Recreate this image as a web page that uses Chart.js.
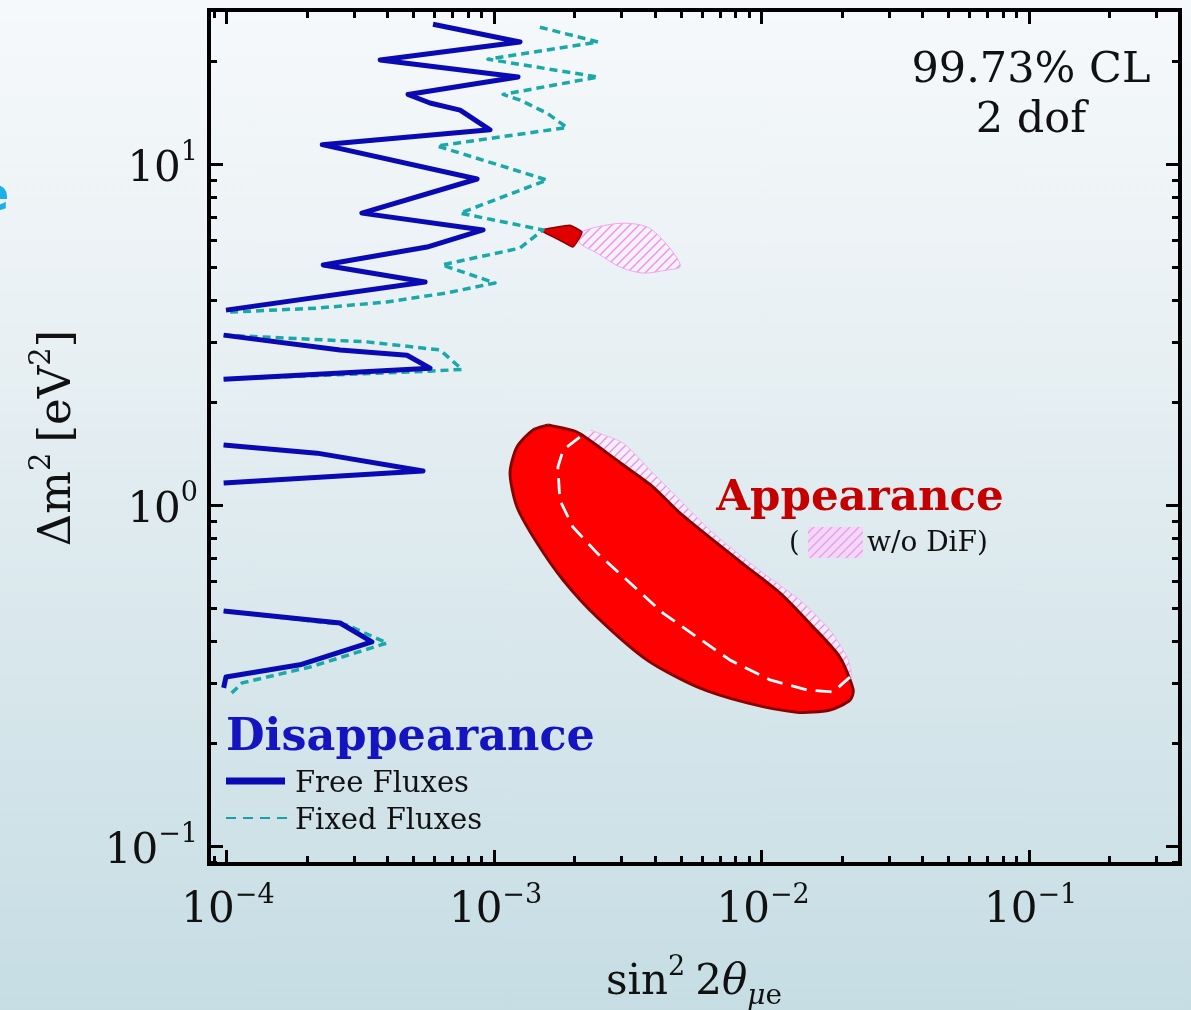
<!DOCTYPE html>
<html><head><meta charset="utf-8">
<script src="https://cdn.jsdelivr.net/npm/chart.js@4.4.0/dist/chart.umd.min.js"></script>
<style>
html,body{margin:0;padding:0;width:1191px;height:1010px;overflow:hidden;
background:linear-gradient(to bottom,#f6f9fb 0%,#eaf1f4 30%,#d8e7ec 65%,#c6dde4 100%);}
#c{position:absolute;left:0;top:0;}
</style></head><body>
<canvas id="c" width="1191" height="1010"></canvas>
<script>
// ---------- DATA ----------
// Disappearance, free fluxes (solid blue) – upper oscillating contour
const freeUpperX = [5.94e-4,1.256e-3,3.77e-4,1.235e-3,4.79e-4,5.79e-4,7.50e-4,9.70e-4,2.29e-4,8.68e-4,3.22e-4,9.14e-4,5.64e-4,2.31e-4,5.55e-4,1.0e-4];
const freeUpperY = [25.7,22.8,20.2,18.0,16.0,15.1,14.4,12.6,11.4,9.04,7.18,6.41,5.71,5.06,4.51,3.73];
const freeLoop2X = [9.8e-5,2.67e-4,4.75e-4,5.79e-4,9.8e-5];
const freeLoop2Y = [3.15,2.85,2.75,2.52,2.34];
const freeLoop3X = [9.8e-5,2.19e-4,5.45e-4,9.8e-5];
const freeLoop3Y = [1.50,1.42,1.258,1.16];
const freeLoop4X = [9.8e-5,2.67e-4,3.51e-4,1.89e-4,1.0e-4,9.8e-5];
const freeLoop4Y = [0.489,0.451,0.397,0.340,0.313,0.291];
// Disappearance, fixed fluxes (dashed teal)
const fixedUpperX = [1.49e-3,2.46e-3,9.53e-4,2.46e-3,1.086e-3,1.256e-3,1.585e-3,1.88e-3,6.15e-4,1.585e-3,7.50e-4,1.53e-3,1.256e-3,6.42e-4,1.013e-3,6.70e-4,3.99e-4,2.19e-4,1.03e-4];
const fixedUpperY = [25.2,22.8,20.3,18.0,16.0,15.4,14.1,12.8,11.3,8.98,7.18,6.41,5.67,5.06,4.48,4.19,3.94,3.78,3.68];
const fixedLoop2X = [9.8e-5,3.37e-4,6.31e-4,7.63e-4,5.79e-4,9.8e-5];
const fixedLoop2Y = [3.15,3.01,2.85,2.50,2.47,2.34];
const fixedLoop3X = [9.8e-5,2.19e-4,5.45e-4,9.8e-5];
const fixedLoop3Y = [1.50,1.42,1.258,1.16];
const fixedLoop4X = [9.8e-5,2.83e-4,4.0e-4,2.06e-4,1.15e-4,1.03e-4];
const fixedLoop4Y = [0.489,0.445,0.394,0.335,0.301,0.277];
// Appearance (red filled region)
const appearX = [1.60e-3,2.05e-3,2.66e-3,3.24e-3,3.95e-3,4.98e-3,6.62e-3,8.87e-3,1.178e-2,1.565e-2,1.97e-2,2.21e-2,2.15e-2,1.81e-2,1.36e-2,8.87e-3,5.77e-3,3.75e-3,2.44e-3,1.82e-3,1.455e-3,1.224e-3,1.153e-3,1.224e-3,1.406e-3];
const appearY = [1.717,1.637,1.420,1.267,1.129,0.947,0.789,0.658,0.552,0.439,0.358,0.287,0.268,0.2505,0.247,0.263,0.293,0.351,0.469,0.603,0.774,0.987,1.241,1.48,1.66];
const appearIslandX = [1.49e-3,1.93e-3,2.14e-3,2.07e-3,1.98e-3,1.77e-3,1.56e-3];
const appearIslandY = [6.41,6.62,6.32,5.98,5.71,5.98,6.28];
// Appearance w/o DiF: white dashed lower edge + pink hatched upper edge
const noDifLowerX = [2.10e-3,1.82e-3,1.74e-3,1.77e-3,1.98e-3,2.44e-3,3.24e-3,4.30e-3,5.77e-3,7.66e-3,1.08e-2,1.486e-2,1.86e-2,2.03e-2,2.15e-2];
const noDifLowerY = [1.582,1.45,1.292,1.034,0.862,0.723,0.591,0.482,0.410,0.351,0.307,0.287,0.283,0.301,0.313];
const noDifUpperX = [2.30e-3,3.05e-3,3.85e-3,4.85e-3,6.62e-3,1.017e-2,1.40e-2,1.81e-2,2.10e-2,2.19e-2];
const noDifUpperY = [1.66,1.52,1.267,1.055,0.828,0.632,0.526,0.430,0.358,0.313];
const noDifIslandX = [2.10e-3,2.44e-3,3.05e-3,3.75e-3,4.30e-3,4.85e-3,4.98e-3,4.45e-3,3.62e-3,2.97e-3,2.44e-3,2.10e-3];
const noDifIslandY = [6.32,6.54,6.71,6.54,5.98,5.30,4.99,4.89,4.79,4.99,5.48,5.87];
// Axes
const xMin = 8.64e-5, xMax = 0.368;
const yMin = 0.0886, yMax = 28.3;
const xTickValues = [1e-4,1e-3,1e-2,1e-1];
const xTickExps = ['\u22124','\u22123','\u22122','\u22121'];
const yTickValues = [0.1,1,10];
const yTickExps = ['\u22121','0','1'];

// ---------- helpers ----------
const pts = (xs, ys) => xs.map((x, i) => ({x, y: ys[i]}));
const closed = (xs, ys) => { const p = pts(xs, ys); p.push({...p[0]}); return p; };
function hatch(){
  const c = document.createElement('canvas'); c.width = 9; c.height = 9;
  const g = c.getContext('2d');
  g.fillStyle = 'rgba(255,240,255,0.6)'; g.fillRect(0,0,9,9);
  g.strokeStyle = '#ec8cec'; g.lineWidth = 1.3;
  g.beginPath();
  g.moveTo(-1,10); g.lineTo(10,-1);
  g.moveTo(-5.5,5.5); g.lineTo(5.5,-5.5);
  g.moveTo(3.5,14.5); g.lineTo(14.5,3.5);
  g.stroke();
  return g.createPattern(c,'repeat');
}
const pat = hatch();
const SERIF = '"DejaVu Serif", "Liberation Serif", serif';
function rich(ctx, segs, x, y, align){
  let total = 0;
  for (const s of segs){ ctx.font = (s.st||'') + ' ' + s.sz + 'px ' + SERIF; s.w = ctx.measureText(s.t).width + (s.gap||0); total += s.w; }
  let cx = align === 'center' ? x - total/2 : (align === 'right' ? x - total : x);
  ctx.textAlign = 'left'; ctx.textBaseline = 'alphabetic';
  for (const s of segs){ ctx.font = (s.st||'') + ' ' + s.sz + 'px ' + SERIF; ctx.fillText(s.t, cx, y + (s.dy||0)); cx += s.w; }
}

const lineDs = (data, color, width, dash, order) => ({
  data, showLine: true, borderColor: color, borderWidth: width, borderDash: dash || [],
  pointRadius: 0, fill: false, tension: 0, order, borderJoinStyle: 'round', borderCapStyle: 'butt'
});

const noDifPoly = pts(noDifUpperX, noDifUpperY).concat(pts(noDifLowerX, noDifLowerY).reverse());

const datasets = [
  {data: noDifPoly, showLine:true, borderColor:'#f0b4f0', borderWidth:1, backgroundColor: pat, fill:'shape', pointRadius:0, order: 20, tension:0.2},
  {data: closed(noDifIslandX, noDifIslandY), showLine:true, borderColor:'#f0a6f0', borderWidth:1, backgroundColor: pat, fill:'shape', pointRadius:0, order: 19, tension:0.3},
  {data: closed(appearX, appearY), showLine:true, borderColor:'#8a0000', borderWidth:3, backgroundColor:'#ff0000', fill:'shape', pointRadius:0, order: 18, tension:0.25},
  {data: closed(appearIslandX, appearIslandY), showLine:true, borderColor:'#8a0000', borderWidth:1.5, backgroundColor:'#e00000', fill:'shape', pointRadius:0, order: 17, tension:0.1},
  lineDs(pts(noDifLowerX, noDifLowerY), '#ffffff', 2.8, [16,9], 16),
  lineDs(pts(fixedUpperX, fixedUpperY), '#1aa8a8', 3.5, [8,5], 10),
  lineDs(pts(fixedLoop2X, fixedLoop2Y), '#1aa8a8', 3.5, [8,5], 10),
  lineDs(pts(fixedLoop3X, fixedLoop3Y), '#1aa8a8', 3.5, [8,5], 10),
  lineDs(pts(fixedLoop4X, fixedLoop4Y), '#1aa8a8', 3.5, [8,5], 10),
  lineDs(pts(freeUpperX, freeUpperY), '#0a0ab4', 5, [], 1),
  lineDs(pts(freeLoop2X, freeLoop2Y), '#0a0ab4', 5, [], 1),
  lineDs(pts(freeLoop3X, freeLoop3Y), '#0a0ab4', 5, [], 1),
  lineDs(pts(freeLoop4X, freeLoop4Y), '#0a0ab4', 5, [], 1)
];

const deco = {
  id: 'deco',
  afterDraw(chart){
    const ctx = chart.ctx, a = chart.chartArea, xs = chart.scales.x, ys = chart.scales.y;
    ctx.save();
    // ticks
    ctx.strokeStyle = '#000'; ctx.lineWidth = 3;
    ctx.beginPath();
    for (let e = -5; e <= 1; e++) for (let m = 1; m <= 9; m++){
      const v = m * Math.pow(10, e);
      const L = m === 1 ? 14 : 8;
      if (v >= xs.min && v <= xs.max){
        const px = Math.round(xs.getPixelForValue(v)) + 0.5;
        ctx.moveTo(px, a.bottom); ctx.lineTo(px, a.bottom - L);
        ctx.moveTo(px, a.top); ctx.lineTo(px, a.top + L);
      }
      if (v >= ys.min && v <= ys.max){
        const py = Math.round(ys.getPixelForValue(v)) + 0.5;
        ctx.moveTo(a.left, py); ctx.lineTo(a.left + L, py);
        ctx.moveTo(a.right, py); ctx.lineTo(a.right - L, py);
      }
    }
    ctx.stroke();
    // frame
    ctx.lineWidth = 4;
    ctx.strokeRect(a.left, a.top, a.right - a.left, a.bottom - a.top);
    // tick labels
    ctx.fillStyle = '#111';
    xTickValues.forEach((v, i) => {
      const px = xs.getPixelForValue(v);
      rich(ctx, [{t:'10', sz:42}, {t:xTickExps[i], sz:27, dy:-19}], px + 2, 922, 'center');
    });
    yTickValues.forEach((v, i) => {
      const py = ys.getPixelForValue(v);
      rich(ctx, [{t:'10', sz:42}, {t:yTickExps[i], sz:27, dy:-21}], 198, py + 17, 'right');
    });
    // axis titles
    ctx.save();
    ctx.translate(70, 438); ctx.rotate(-Math.PI/2);
    rich(ctx, [{t:'\u0394m', sz:45}, {t:'2', sz:29, dy:-20, gap:10}, {t:'[eV', sz:45}, {t:'2', sz:29, dy:-20}, {t:']', sz:45}], 0, 0, 'center');
    ctx.restore();
    rich(ctx, [{t:'sin', sz:42}, {t:'2', sz:27, dy:-19, gap:10}, {t:'2', sz:42}, {t:'\u03b8', sz:42, st:'italic'}, {t:'\u03bc', sz:28, dy:10, st:'italic'}, {t:'e', sz:28, dy:10}], 694, 994, 'center');
    // CL box
    ctx.fillStyle = '#111';
    rich(ctx, [{t:'99.73% CL', sz:43}], 1031, 82, 'center');
    rich(ctx, [{t:'2 dof', sz:43}], 1031, 132, 'center');
    // Appearance label
    ctx.fillStyle = '#c40000';
    rich(ctx, [{t:'Appearance', sz:43.5, st:'bold'}], 860, 510, 'center');
    ctx.fillStyle = '#111';
    rich(ctx, [{t:'(', sz:27}], 789, 551, 'left');
    ctx.fillStyle = pat; ctx.fillRect(808, 527, 55, 31);
    ctx.fillStyle = '#f2b0f2'; ctx.globalAlpha = 0.35; ctx.fillRect(808, 527, 55, 31); ctx.globalAlpha = 1;
    ctx.fillStyle = '#111';
    rich(ctx, [{t:'w/o DiF)', sz:28}], 867, 551, 'left');
    // Disappearance legend
    ctx.fillStyle = '#1414c0';
    rich(ctx, [{t:'Disappearance', sz:44.5, st:'bold'}], 226, 750, 'left');
    ctx.strokeStyle = '#0a0ab4'; ctx.lineWidth = 7; ctx.setLineDash([]);
    ctx.beginPath(); ctx.moveTo(226, 781); ctx.lineTo(285, 781); ctx.stroke();
    ctx.strokeStyle = '#1aa0a0'; ctx.lineWidth = 2; ctx.setLineDash([10,7]);
    ctx.beginPath(); ctx.moveTo(226, 818); ctx.lineTo(287, 818); ctx.stroke();
    ctx.setLineDash([]);
    ctx.fillStyle = '#111';
    rich(ctx, [{t:'Free Fluxes', sz:29}], 295, 792, 'left');
    rich(ctx, [{t:'Fixed Fluxes', sz:29}], 295, 829, 'left');
    // cut-off slide text fragment at left edge
    ctx.fillStyle = '#1eb0e6';
    ctx.font = 'bold 46px "DejaVu Sans", sans-serif';
    ctx.fillText('e', -22, 210);
    ctx.restore();
  }
};

new Chart(document.getElementById('c'), {
  type: 'scatter',
  data: { datasets },
  options: {
    responsive: false, animation: false,
    layout: { padding: { left: 209, right: 11, top: 10, bottom: 146 } },
    plugins: { legend: { display: false }, tooltip: { enabled: false } },
    scales: {
      x: { type: 'logarithmic', min: xMin, max: xMax, display: false },
      y: { type: 'logarithmic', min: yMin, max: yMax, display: false }
    }
  },
  plugins: [deco]
});
</script>
</body></html>
